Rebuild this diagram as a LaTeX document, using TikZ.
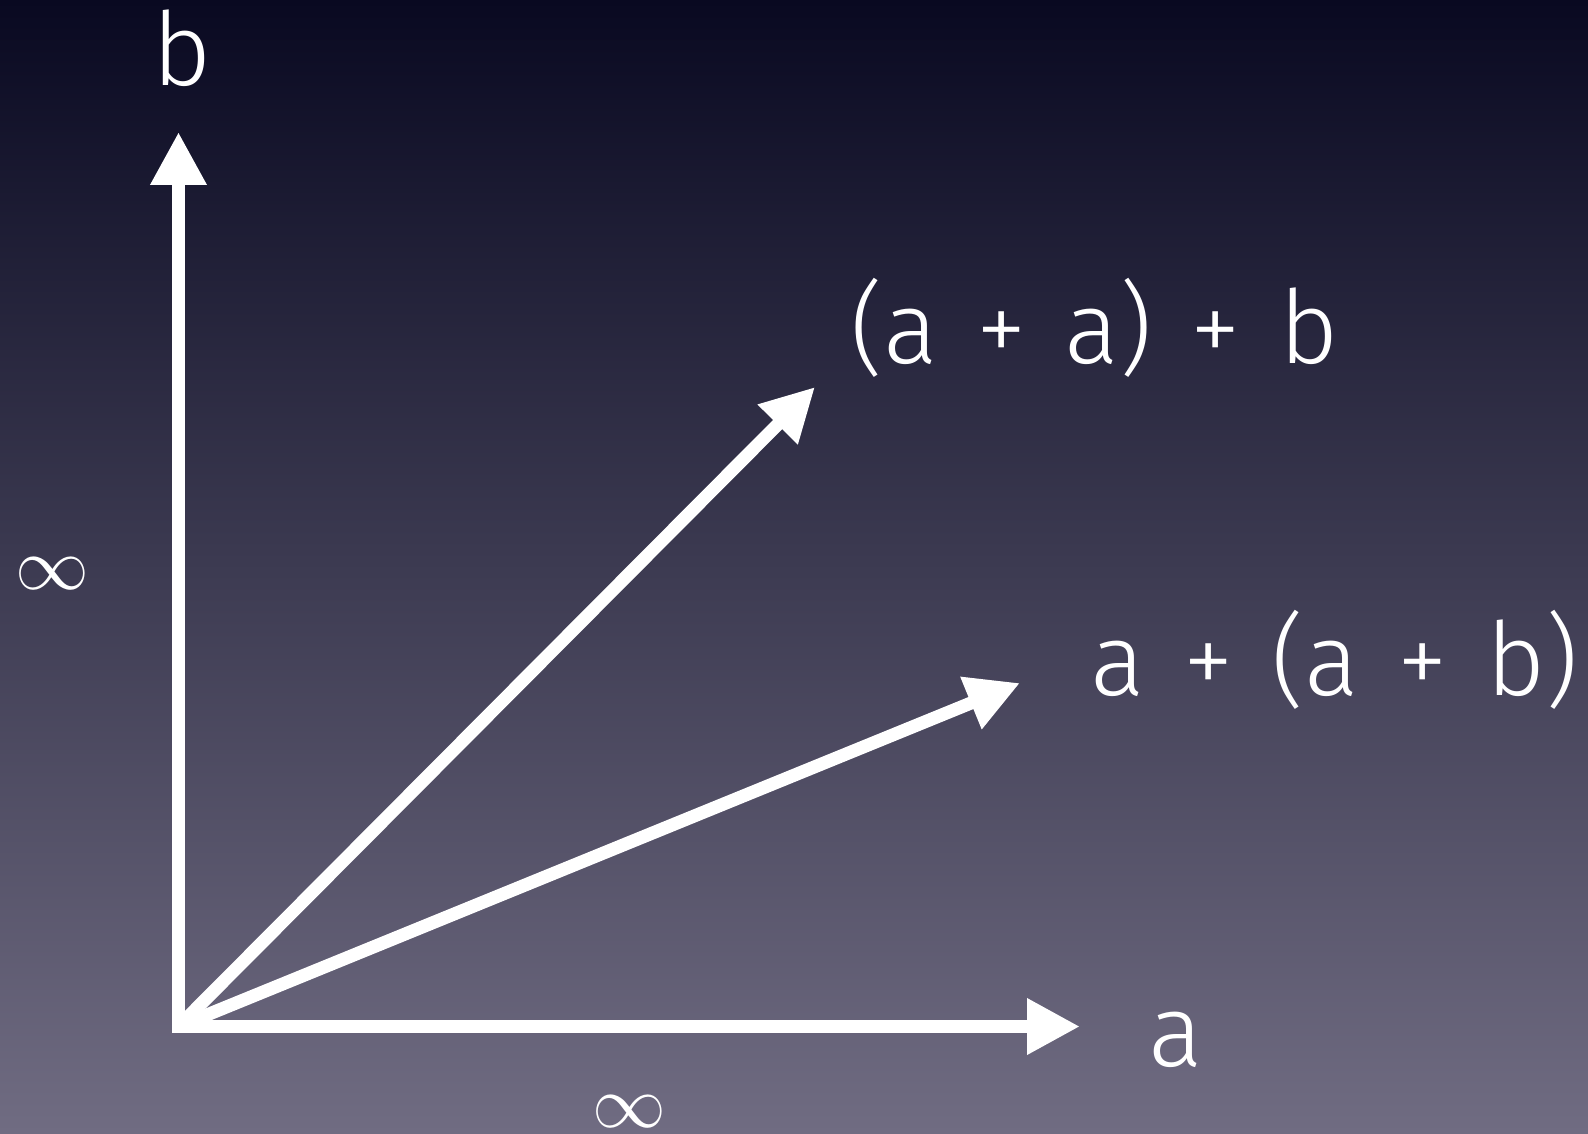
\documentclass[tikz,border=0pt]{standalone}
\usepackage{fontspec}
\setmainfont[WordSpace=1.35]{Fira Sans Light}
\newfontfamily\inffont{latinmodern-math.otf}
\usetikzlibrary{arrows.meta, positioning}

\definecolor{bgtop}{RGB}{9,9,33}
\definecolor{bgbottom}{RGB}{112,108,130}

\tikzset{
  vec/.style={white, line width=0.26cm, -{Triangle[length=1.06cm, width=1.06cm]}},
  lbl/.style={text=white, inner sep=0pt, font=\fontsize{58}{60}\selectfont},
  inf/.style={text=white, inner sep=0pt, font=\inffont\fontsize{42}{44}\selectfont}
}

\begin{document}
\begin{tikzpicture}[x=0.02cm, y=-0.02cm]

        % Background
        \shade[top color=bgtop, bottom color=bgbottom] (0,0) rectangle (1588,1133);
        \useasboundingbox (0,0) rectangle (1588,1133);

        % Origin and arrow tips
        \coordinate (o) at (178.5,1026.5);
        \coordinate (btip) at (178.5,132);
        \coordinate (atip) at (1080,1026.5);
        \coordinate (lefttip) at (815,387);
        \coordinate (righttip) at (1020,683);

        % Axes
        \draw[vec, line cap=rect] (o) -- (btip);
        \draw[vec, line cap=rect] (o) -- (atip);

        % Sum vectors
        \draw[vec] (o) -- (lefttip);
        \draw[vec] (o) -- (righttip);

        % Labels
        \node[lbl, anchor=base] (blbl) at (182,85) {b};
        \node[lbl, anchor=base] (albl) at (1176,1066) {a};
        \node[lbl, anchor=base] (leftlbl) at (1094.5,363) {(a + a) + b};
        \node[lbl, anchor=base] (rightlbl) at (1334.5,695) {a + (a + b)};

        % Infinities
        \node[inf] (infb) at (52,574) {∞};
        \node[inf] (infa) at (629,1112) {∞};

    \end{tikzpicture}
\end{document}
